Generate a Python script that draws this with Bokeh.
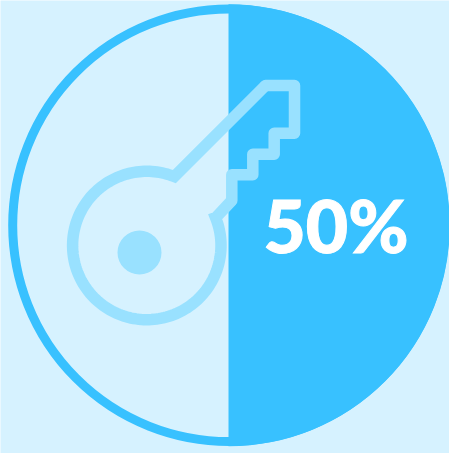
import numpy as np
from bokeh.core.properties import value
from bokeh.embed import file_html
from bokeh.models import Range1d
from bokeh.plotting import figure
from bokeh.resources import INLINE

# The single figure this gauge reports
share_percent = 50
share_label = f"{share_percent}%"

BACKGROUND = "#D6F2FF"
ACCENT = "#38C1FF"
KEY = "#99E1FF"

W, H = 449, 453
CX, CY, R = 228.0, 224.7, 221.0

# Key pictogram, in page pixels with y growing downward
BOW_X, BOW_Y, BOW_R = 146.3, 245.0, 74.2
HOLE_X, HOLE_Y, HOLE_R = 139.0, 252.0, 22.0
blade_x = [174.0, 265.0, 294.0, 294.0, 273.7, 273.7, 252.3, 252.3, 231.3, 231.3, 215.7]
blade_y = [175.7, 85.0, 85.0, 132.7, 132.7, 153.7, 153.7, 174.3, 174.3, 200.0, 216.7]

p = figure(
    width=W, height=H, output_backend="svg", toolbar_location=None,
    x_range=Range1d(0, W), y_range=Range1d(H, 0),
    min_border=0, outline_line_color=None,
    background_fill_color=BACKGROUND, border_fill_color=BACKGROUND,
)
p.axis.visible = False
p.grid.visible = False

# Outer ring, then the filled share of the dial running clockwise from the top
p.circle(x=[CX + 0.5], y=[CY], radius=R - 4.7, fill_color=None, line_color=ACCENT, line_width=9)
p.wedge(
    x=[CX], y=[CY], radius=R,
    start_angle=np.pi / 2, end_angle=np.pi / 2 - 2 * np.pi * share_percent / 100,
    direction="clock", fill_color=ACCENT, line_color=None,
)

# Bow of the key: long way round from the blade's end back to its start
a0 = np.arctan2(blade_y[-1] - BOW_Y, blade_x[-1] - BOW_X)
a1 = np.arctan2(blade_y[0] - BOW_Y, blade_x[0] - BOW_X) + 2 * np.pi
theta = np.linspace(a0, a1, 160)
bow_x = BOW_X + BOW_R * np.cos(theta)
bow_y = BOW_Y + BOW_R * np.sin(theta)

# Sharp joins where the bow meets the blade, rounded corners on the teeth
p.line(
    x=[blade_x[-2], blade_x[-1], *bow_x, blade_x[1]],
    y=[blade_y[-2], blade_y[-1], *bow_y, blade_y[1]],
    line_color=KEY, line_width=11.5, line_join="miter",
)
p.line(x=blade_x[1:-1], y=blade_y[1:-1], line_color=KEY, line_width=11.5, line_join="round", line_cap="round")
p.circle(x=[HOLE_X], y=[HOLE_Y], radius=HOLE_R, fill_color=KEY, line_color=None)

p.text(
    x=[335.5], y=[224], text=[share_label], text_color="#FFFFFF", text_outline_color="#FFFFFF",
    text_font=value("Lato Black"), text_font_style="bold", text_font_size="73px",
    text_align="center", text_baseline="alphabetic",
)

open("out.html", "w").write(file_html(p, INLINE))
